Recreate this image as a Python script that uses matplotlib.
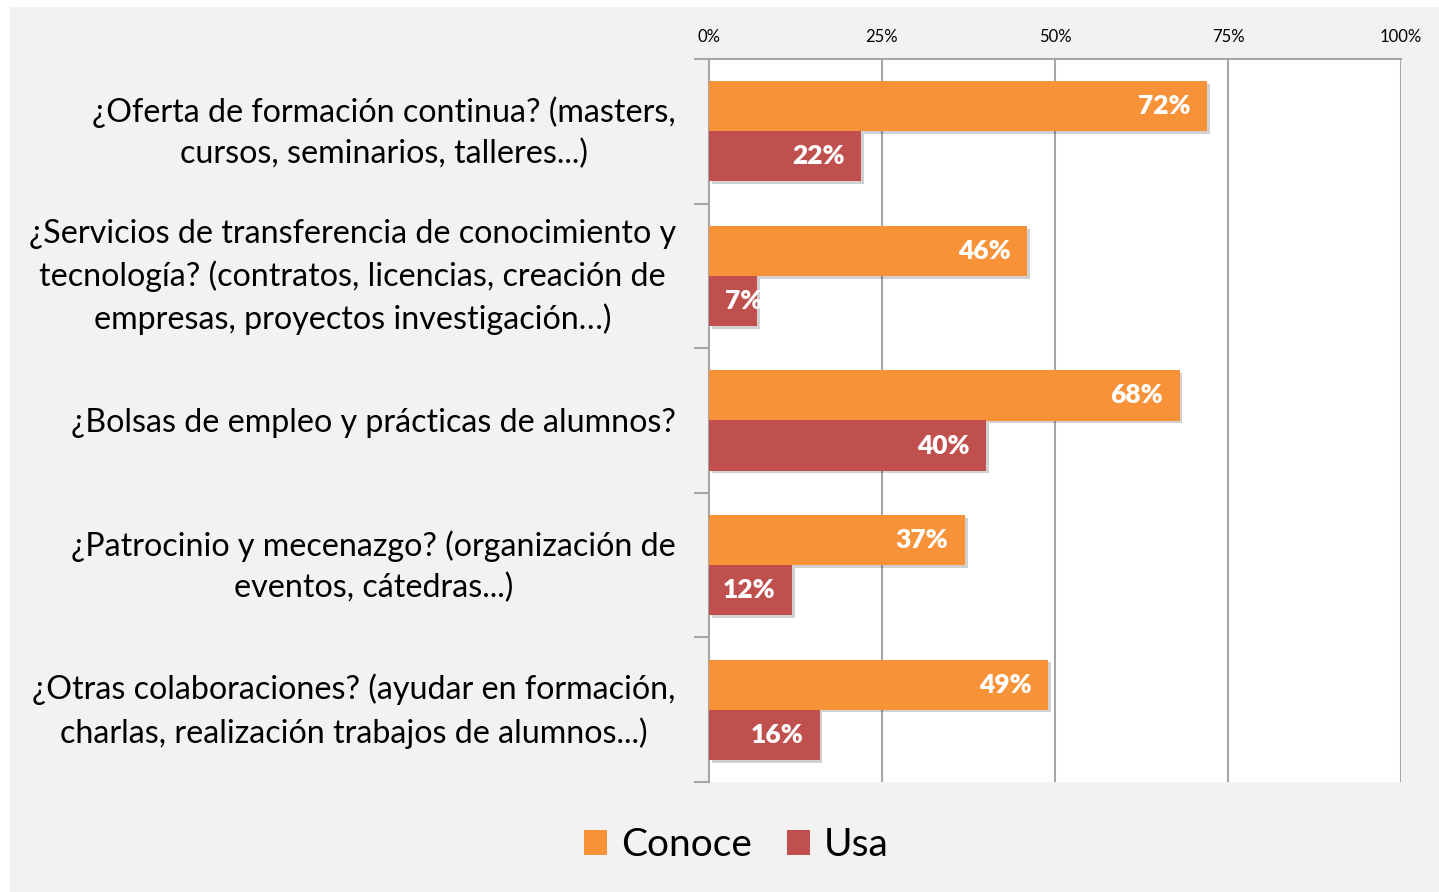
import matplotlib.pyplot as plt
from matplotlib.patches import Rectangle, Patch
from matplotlib import patheffects as pe
import numpy as np

categories = [
    "¿Oferta de formación continua? (masters,\ncursos, seminarios, talleres...)",
    "¿Servicios de transferencia de conocimiento y\ntecnología? (contratos, licencias, creación de\nempresas, proyectos investigación…)",
    "¿Bolsas de empleo y prácticas de alumnos?",
    "¿Patrocinio y mecenazgo? (organización de\neventos, cátedras...)",
    "¿Otras colaboraciones? (ayudar en formación,\ncharlas, realización trabajos de alumnos...)",
]
conoce = [72, 46, 68, 37, 49]
usa = [22, 7, 40, 12, 16]
series_names = ["Conoce", "Usa"]
xticks = [0, 25, 50, 75, 100]

c_conoce = '#f79239'
c_usa = '#c0504d'
grid_c = '#a6a6a6'
bg = '#f2f2f2'

plt.rcParams['font.family'] = ['Lato', 'DejaVu Sans']

W, H = 1439, 892
fig = plt.figure(figsize=(W / 100, H / 100), dpi=100, facecolor='white')
fig.patches.append(Rectangle((10 / W, 0), 1 - 10 / W, 1 - 7 / H,
                             transform=fig.transFigure, facecolor=bg,
                             edgecolor='none', zorder=-10))

ax = fig.add_axes([709 / W, 1 - 782 / H, (1401 - 709) / W, (782 - 59) / H])
ax.set_facecolor('white')

n = len(categories)
y = np.arange(n)
h = 0.346
shadow = [pe.SimplePatchShadow(offset=(2, -2), shadow_rgbFace='black', alpha=0.18), pe.Normal()]
b1 = ax.barh(y - h / 2, conoce, height=h, color=c_conoce, zorder=3, path_effects=shadow)
b2 = ax.barh(y + h / 2, usa, height=h, color=c_usa, zorder=3, path_effects=shadow)

for bars, vals in ((b1, conoce), (b2, usa)):
    for bar, v in zip(bars, vals):
        yc = bar.get_y() + bar.get_height() / 2
        if v < 10:
            # too short for an inside-end label
            ax.text(2.3, yc, f"{v}%", ha='left', va='center', color='white',
                    fontsize=19, fontweight='heavy', zorder=4)
        else:
            ax.text(v - 2.4, yc, f"{v}%", ha='right', va='center', color='white',
                    fontsize=19, fontweight='heavy', zorder=4)

ax.set_xlim(0, 100)
ax.set_ylim(n - 0.5, -0.5)
ax.xaxis.tick_top()
ax.set_xticks(xticks)
ax.set_xticklabels([f"{t}%" for t in xticks], fontsize=12)
ax.tick_params(axis='x', length=0, pad=10)
for t in xticks[1:]:
    ax.axvline(t, color=grid_c, lw=1.5, zorder=1)

# category labels
ax.set_yticks([])
ax.set_yticks(np.arange(n + 1) - 0.5, minor=True)
ax.tick_params(axis='y', which='minor', length=11, width=1.5, color=grid_c)
xlab = -(709 - 676) / (1401 - 709)
for i, cat in enumerate(categories):
    dy = 0.01 if '\n' in cat else 0.02
    ax.text(xlab, i + dy, cat, transform=ax.get_yaxis_transform(),
            ha='right', va='center', multialignment='center',
            linespacing=1.45, fontsize=23.2, color='black')

for s in ['right', 'bottom']:
    ax.spines[s].set_visible(False)
for s in ['left', 'top']:
    ax.spines[s].set_color(grid_c)
    ax.spines[s].set_linewidth(1.5)

handles = [Patch(facecolor=c_conoce, label=series_names[0]),
           Patch(facecolor=c_usa, label=series_names[1])]
fig.legend(handles=handles, loc='center', bbox_to_anchor=(736 / W, 1 - 845 / H),
           ncol=2, frameon=False, fontsize=28, handlelength=0.6, handleheight=0.6,
           handletextpad=0.35, columnspacing=0.9)

fig.savefig('out.png', dpi=100, facecolor=fig.get_facecolor())
